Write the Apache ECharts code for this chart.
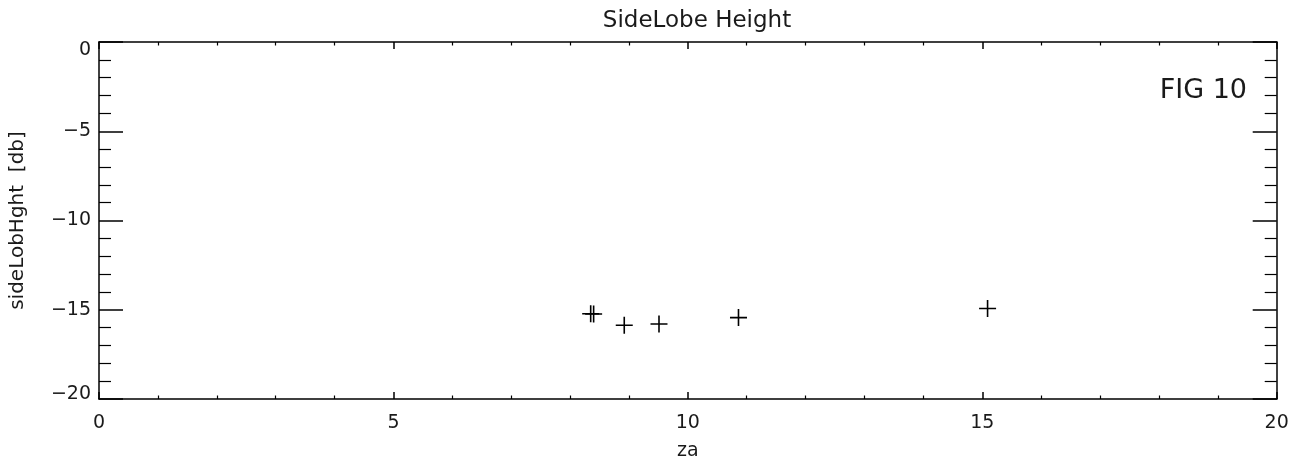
<!DOCTYPE html>
<html><head><meta charset="utf-8">
<script src="https://cdn.jsdelivr.net/npm/echarts@6/dist/echarts.min.js"></script>
<style>html,body{margin:0;padding:0;background:#fff}#c{width:1304px;height:466px}</style>
</head><body><div id="c"></div>
<script>
const titleText = 'SideLobe Height';
const xName = 'za';
const yName = 'sideLobHght  [db]';
const annotation = 'FIG 10';
const zaValues = [8.35, 8.40, 8.92, 9.51, 10.86, 15.09];
const sideLobValues = [-15.22, -15.24, -15.87, -15.80, -15.44, -14.93];
const xTicks = [0, 5, 10, 15, 20];
const yTicks = [-20, -15, -10, -5, 0];

const FONT = "'DejaVu Sans', 'Liberation Sans', sans-serif";
const TXT = '#1a1a1a';
const points = zaValues.map((x, i) => [x, sideLobValues[i]]);

const chart = echarts.init(document.getElementById('c'), null, {renderer: 'canvas'});
const lineStyle = {color: '#000', width: 1.5};
function xAxis(pos, show) {
  return {
    type: 'value', position: pos, min: xTicks[0], max: xTicks[xTicks.length-1], interval: 5,
    name: show ? xName : '', nameLocation: 'middle', nameGap: 43,
    nameTextStyle: {fontFamily: FONT, fontSize: 19, color: TXT},
    axisLine: {show: true, onZero: false, lineStyle},
    axisTick: {show: true, inside: true, length: 7, lineStyle},
    minorTick: {show: true, splitNumber: 5, length: 3.5, lineStyle: {color: '#000', width: 1.2}},
    axisLabel: {show: show, margin: 15, fontFamily: FONT, fontSize: 19, color: TXT},
    splitLine: {show: false}, minorSplitLine: {show: false}
  };
}
function yAxis(pos, show) {
  return {
    type: 'value', position: pos, min: yTicks[0], max: yTicks[yTicks.length-1], interval: 5,
    name: show ? yName : '', nameLocation: 'middle', nameGap: 71, nameRotate: 90,
    nameTextStyle: {fontFamily: FONT, fontSize: 20, color: TXT},
    axisLine: {show: true, onZero: false, lineStyle},
    axisTick: {show: true, inside: true, length: 24, lineStyle},
    minorTick: {show: true, splitNumber: 5, length: 12, lineStyle: {color: '#000', width: 1.2}},
    axisLabel: {show: show, margin: 8, fontFamily: FONT, fontSize: 19, color: TXT,
      formatter: function (v) {
        const s = String(v).replace('-', '\u2212');
        if (v === yTicks[yTicks.length-1]) return '{top|' + s + '}';
        if (v === yTicks[0]) return '{bot|' + s + '}';
        return s;
      },
      rich: {
        top: {fontFamily: FONT, fontSize: 19, color: TXT, padding: [16, 0, 0, 0]},
        bot: {fontFamily: FONT, fontSize: 19, color: TXT, padding: [0, 0, 10, 0]}
      }
    },
    splitLine: {show: false}, minorSplitLine: {show: false}
  };
}
chart.setOption({
  animation: false,
  backgroundColor: '#fff',
  title: {text: titleText, left: 692, textAlign: 'center', top: 5,
    textStyle: {fontFamily: FONT, fontSize: 23, fontWeight: 'normal', color: TXT}},
  grid: {left: 96.7, right: 27.3, top: 42, bottom: 64, containLabel: false},
  xAxis: [xAxis('bottom', true), xAxis('top', false)],
  yAxis: [yAxis('left', true), yAxis('right', false)],
  graphic: [{type: 'text', right: 57, top: 77,
    style: {text: annotation, fontFamily: FONT, fontSize: 27, fill: TXT}}],
  series: [{
    type: 'scatter', xAxisIndex: 0, yAxisIndex: 0, data: points,
    symbol: 'path://M5,0L5,10M0,5L10,5', symbolSize: 17, symbolKeepAspect: true,
    itemStyle: {color: 'none', borderColor: '#000', borderWidth: 1.6, opacity: 1}
  }]
});
</script></body></html>
